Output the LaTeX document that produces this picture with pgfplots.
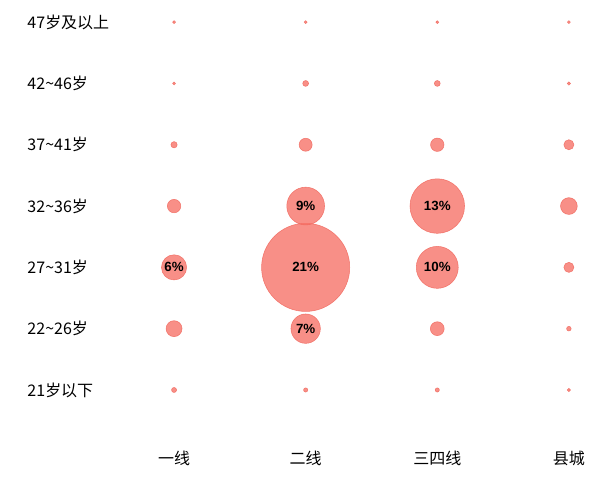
\documentclass[border=0pt]{standalone}
\usepackage{pgfplots}
\pgfplotsset{compat=1.18}
\usepackage{pgfplotstable}
\usepackage{fontspec}
\setmainfont{Noto Sans CJK SC}
\newfontfamily\lblfont{Liberation Sans}

\definecolor{bubblefill}{RGB}{246,112,101}
\definecolor{bubbleedge}{RGB}{240,100,90}

% x: 0 一线, 1 二线, 2 三四线, 3 县城
% y: 0 21岁以下 ... 6 47岁及以上; v in %
\pgfplotstableread{
x y v
0 0 1.2
1 0 1.0
2 0 1.0
3 0 0.8
0 1 3.8
1 1 7
2 1 3.3
3 1 1.1
0 2 6
1 2 21
2 2 10
3 2 2.4
0 3 3.2
1 3 9
2 3 13
3 3 4.0
0 4 1.5
1 4 3.1
2 4 3.2
3 4 2.4
0 5 0.7
1 5 1.4
2 5 1.4
3 5 0.8
0 6 0.7
1 6 0.7
2 6 0.7
3 6 0.7
}\agedata

\pgfplotstableread{
x y lbl
0 2 6\%
1 1 7\%
1 2 21\%
1 3 9\%
2 2 10\%
2 3 13\%
}\labeldata

\begin{document}
\begin{tikzpicture}
\begin{axis}[
  scale only axis,
  width=462pt, height=362.25pt,
  xmin=-1.3215, xmax=3.357,
  ymin=-1.516, ymax=6.359,
  axis line style={draw=none},
  major tick length=0pt,
  xtick={0,1,2,3},
  xticklabels={一线,二线,三四线,县城},
  ytick={0,...,6},
  yticklabels={21岁以下,22\textasciitilde26岁,27\textasciitilde31岁,32\textasciitilde36岁,37\textasciitilde41岁,42\textasciitilde46岁,47岁及以上},
  tick label style={font=\fontsize{12}{14}\selectfont, text=black},
  yticklabel style={anchor=west, xshift=17pt},
  xticklabel style={anchor=center, yshift=18.5pt},
  clip=false,
]
\addplot[
  scatter, only marks, mark=*,
  scatter/use mapped color={draw=bubbleedge, fill=bubblefill},
  fill opacity=0.78, draw opacity=0.8,
  visualization depends on={1.575*\thisrow{v} \as \r},
  scatter/@pre marker code/.append style={/tikz/mark size=\r},
] table[x=x, y=y] {\agedata};
\addplot[
  only marks, mark=none,
  nodes near coords,
  point meta=explicit symbolic,
  nodes near coords align=center,
  every node near coord/.append style={font=\lblfont\bfseries\fontsize{10}{12}\selectfont, text=black, inner sep=0pt},
] table[x=x, y=y, meta=lbl] {\labeldata};
\end{axis}
\end{tikzpicture}
\end{document}
